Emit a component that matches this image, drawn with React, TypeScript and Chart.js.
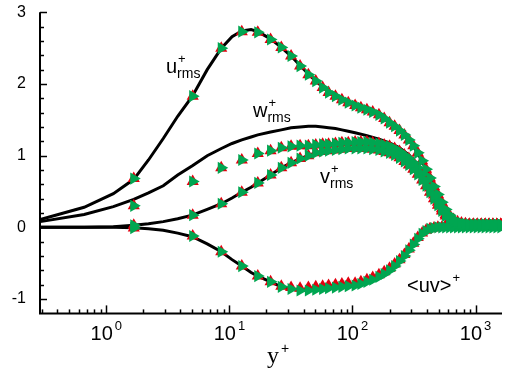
import React, { useEffect, useRef } from "react";
import { Chart, registerables } from "chart.js";

Chart.register(...registerables);

// ---- axis ranges / ticks ----
const X_MIN = 0.289;
const X_MAX = 1640;
const Y_MIN = -1.2;
const Y_MAX = 3;
const xDecadeExponents = [0, 1, 2, 3];
const yTickValues = [3, 2, 1, 0, -1];

// ---- reference (solid black) curves ----
const dnsYPlus = [0.29, 0.66, 1.14, 1.67, 2.2, 2.9, 3.8, 5.0, 6.6, 8.6, 10.5, 12.6, 15, 17,
  21.6, 26.4, 31.7, 37.5, 43.8, 50.3, 57.2, 63.9, 72.7, 82, 92.4, 105,
  131, 164, 200, 241, 287, 339, 396, 459,
  532, 616, 714, 827, 959, 1111, 1287, 1491, 1640];
const dnsU = [0.11, 0.28, 0.47, 0.67, 0.94, 1.24, 1.55, 1.83, 2.2, 2.5, 2.66, 2.74, 2.76, 2.73,
  2.63, 2.51, 2.39, 2.26, 2.14, 2.04, 1.96, 1.89, 1.83, 1.78, 1.74, 1.7,
  1.64, 1.57, 1.46, 1.35, 1.22, 1.04, 0.81, 0.57,
  0.35, 0.17, 0.08, 0.05, 0.04, 0.04, 0.04, 0.04, 0.04];
const dnsW = [0.08, 0.18, 0.29, 0.39, 0.48, 0.58, 0.73, 0.86, 1.0, 1.1, 1.17, 1.22, 1.26, 1.29,
  1.33, 1.36, 1.39, 1.4, 1.41, 1.41, 1.4, 1.39, 1.38, 1.36, 1.34, 1.32,
  1.28, 1.23, 1.18, 1.11, 1.01, 0.88, 0.7, 0.47,
  0.26, 0.11, 0.05, 0.04, 0.04, 0.04, 0.04, 0.04, 0.04];
const dnsV = [0, 0, 0.01, 0.03, 0.05, 0.08, 0.12, 0.17, 0.25, 0.33, 0.41, 0.49, 0.56, 0.62,
  0.73, 0.83, 0.9, 0.96, 1.0, 1.04, 1.06, 1.07, 1.08, 1.09, 1.1, 1.1,
  1.1, 1.08, 1.04, 0.97, 0.87, 0.74, 0.58, 0.4,
  0.23, 0.11, 0.05, 0.04, 0.04, 0.04, 0.04, 0.04, 0.04];
const dnsUV = [0, 0, 0, -0.005, -0.02, -0.04, -0.08, -0.13, -0.23, -0.34, -0.45, -0.54, -0.63, -0.68,
  -0.76, -0.83, -0.86, -0.88, -0.88, -0.87, -0.86, -0.85, -0.84, -0.83, -0.82, -0.81,
  -0.76, -0.69, -0.6, -0.47, -0.32, -0.16, -0.05, -0.01,
  0, 0, 0, 0, 0, 0, 0, 0, 0];

// ---- marker series (grid points) ----
const gridYPlus = [1.67, 5.03, 8.58, 12.6, 17.0, 21.6, 26.4, 31.7, 37.5, 43.8, 50.3, 57.2, 63.9,
  72.7, 82.0, 92.4, 105,
  117, 131, 146, 164, 181, 200, 220, 241, 264, 287, 312, 339, 368, 396, 426, 459,
  494, 532, 572, 616, 663, 714, 768, 827, 890, 959, 1032, 1111, 1196, 1287, 1385, 1491, 1605];
const greenU = [0.68, 1.83, 2.5, 2.73, 2.72, 2.62, 2.51, 2.39, 2.25, 2.13, 2.04, 1.95, 1.88,
  1.83, 1.78, 1.74, 1.7,
  1.67, 1.64, 1.61, 1.57, 1.52, 1.46, 1.41, 1.35, 1.29, 1.22, 1.14, 1.04, 0.93, 0.81, 0.69, 0.57,
  0.46, 0.35, 0.25, 0.17, 0.11, 0.08, 0.06, 0.05, 0.04, 0.04, 0.04, 0.04, 0.04, 0.04, 0.04, 0.04, 0.04];
const greenW = [0.3, 0.64, 0.83, 0.94, 1.03, 1.07, 1.11, 1.13, 1.14, 1.14, 1.15, 1.16, 1.16,
  1.17, 1.18, 1.18, 1.19,
  1.19, 1.19, 1.18, 1.17, 1.15, 1.13, 1.1, 1.06, 1.01, 0.96, 0.9, 0.83, 0.74, 0.65, 0.55, 0.45,
  0.35, 0.26, 0.18, 0.12, 0.08, 0.06, 0.05, 0.04, 0.04, 0.04, 0.04, 0.04, 0.04, 0.04, 0.04, 0.04, 0.04];
const greenV = [0.03, 0.17, 0.33, 0.49, 0.62, 0.73, 0.83, 0.9, 0.96, 1.0, 1.04, 1.06, 1.07,
  1.08, 1.09, 1.1, 1.1,
  1.1, 1.1, 1.09, 1.08, 1.06, 1.04, 1.01, 0.97, 0.92, 0.87, 0.81, 0.74, 0.66, 0.58, 0.49, 0.4,
  0.31, 0.23, 0.16, 0.11, 0.07, 0.05, 0.04, 0.04, 0.04, 0.04, 0.04, 0.04, 0.04, 0.04, 0.04, 0.04, 0.04];
const greenUV = [-0.01, -0.12, -0.34, -0.54, -0.68, -0.76, -0.83, -0.86, -0.88, -0.88, -0.87, -0.86, -0.85,
  -0.84, -0.83, -0.82, -0.81,
  -0.79, -0.76, -0.73, -0.69, -0.65, -0.6, -0.54, -0.47, -0.4, -0.32, -0.24, -0.16, -0.09, -0.05, -0.02, -0.01,
  0, 0, 0, 0, 0, 0, 0, 0, 0, 0, 0, 0, 0, 0, 0, 0, 0];
const redU = greenU;
const redW = greenW;
const redV = greenV;
const redUV = [-0.01, -0.12, -0.34, -0.54, -0.68, -0.76, -0.82, -0.84, -0.85, -0.84, -0.83, -0.82, -0.81,
  -0.8, -0.79, -0.78, -0.78,
  -0.76, -0.73, -0.7, -0.66, -0.62, -0.57, -0.51, -0.45, -0.38, -0.3, -0.22, -0.14, -0.08, -0.04, -0.02, -0.01,
  0, 0, 0, 0, 0, 0, 0, 0, 0, 0, 0, 0, 0, 0, 0, 0, 0];

const GREEN = "#00a651";
const RED = "#e1000f";
const SANS = "'Liberation Sans', Arial, Helvetica, sans-serif";
const SERIF = "'Liberation Serif', 'Times New Roman', serif";

const pts = (xs: number[], ys: number[]) => xs.map((x, i) => ({ x, y: ys[i] }));

const lineDs = (ys: number[]) => ({
  data: pts(dnsYPlus, ys),
  showLine: true,
  borderColor: "#000",
  borderWidth: 3,
  pointRadius: 0,
  tension: 0,
  order: 3,
});
const markerDs = (ys: number[], color: string, rotation: number, order: number) => ({
  data: pts(gridYPlus, ys),
  showLine: false,
  pointStyle: "triangle",
  pointRadius: 7,
  pointRotation: rotation,
  pointBackgroundColor: color,
  pointBorderWidth: 0,
  pointBorderColor: color,
  order,
});

const decorPlugin = {
  id: "decor",
  afterDraw(chart: any) {
    const { ctx, chartArea, scales } = chart;
    const xs = scales.x;
    const ys = scales.y;
    ctx.save();
    ctx.strokeStyle = "#000";
    ctx.fillStyle = "#000";
    ctx.lineWidth = 2;
    // axis lines
    ctx.beginPath();
    ctx.moveTo(chartArea.left, ys.getPixelForValue(Y_MAX));
    ctx.lineTo(chartArea.left, chartArea.bottom);
    ctx.lineTo(chartArea.right, chartArea.bottom);
    ctx.stroke();
    // y ticks (inward)
    ctx.lineWidth = 1.5;
    for (let k = -5; k <= 15; k++) {
      const v = k / 5;
      if (v <= Y_MIN + 1e-9 || v > Y_MAX + 1e-9) continue;
      const yp = Math.round(ys.getPixelForValue(v)) + 0.5;
      const len = k % 5 === 0 ? 7 : 4;
      ctx.beginPath();
      ctx.moveTo(chartArea.left, yp);
      ctx.lineTo(chartArea.left + len, yp);
      ctx.stroke();
    }
    // x ticks (inward)
    for (let e = -1; e <= 3; e++) {
      for (let m = 1; m <= 9; m++) {
        const v = m * Math.pow(10, e);
        if (v < X_MIN || v > X_MAX) continue;
        const xp = Math.round(xs.getPixelForValue(v)) + 0.5;
        const len = m === 1 ? 8 : 4;
        ctx.beginPath();
        ctx.moveTo(xp, chartArea.bottom);
        ctx.lineTo(xp, chartArea.bottom - len);
        ctx.stroke();
      }
    }
    // y tick labels
    ctx.font = `16px ${SANS}`;
    ctx.textAlign = "right";
    ctx.textBaseline = "middle";
    yTickValues.forEach((v) => {
      ctx.fillText(String(v), 26, ys.getPixelForValue(v));
    });
    // x tick labels 10^k
    ctx.textBaseline = "alphabetic";
    xDecadeExponents.forEach((e) => {
      const xp = xs.getPixelForValue(Math.pow(10, e));
      ctx.font = `20px ${SANS}`;
      const wBase = ctx.measureText("10").width;
      ctx.font = `13px ${SANS}`;
      const wExp = ctx.measureText(String(e)).width;
      const start = xp - (wBase + 2 + wExp) / 2;
      ctx.textAlign = "left";
      ctx.font = `20px ${SANS}`;
      ctx.fillText("10", start, 340);
      ctx.font = `13px ${SANS}`;
      ctx.fillText(String(e), start + wBase + 2, 330);
    });
    // x axis title y+
    ctx.textAlign = "left";
    ctx.font = `24px ${SERIF}`;
    ctx.fillText("y", 267, 363);
    ctx.font = `14px ${SANS}`;
    ctx.fillText("+", 281, 353);
    // curve labels
    const lab = (base: string, bx: number, by: number, sub: string | null) => {
      ctx.font = `20px ${SANS}`;
      ctx.fillText(base, bx, by);
      const w = ctx.measureText(base).width;
      ctx.font = `13px ${SANS}`;
      ctx.fillText("+", bx + w + 1, by - 10);
      if (sub) {
        ctx.font = `14px ${SANS}`;
        ctx.fillText(sub, bx + w, by + 5);
      }
    };
    lab("u", 166, 73, "rms");
    lab("w", 253, 117, "rms");
    lab("v", 320, 183, "rms");
    lab("<uv>", 407, 292, null);
    ctx.restore();
  },
};

export default function App() {
  const ref = useRef<HTMLCanvasElement | null>(null);
  useEffect(() => {
    if (!ref.current) return;
    const chart = new Chart(ref.current, {
      type: "scatter",
      data: {
        datasets: [
          lineDs(dnsU),
          lineDs(dnsW),
          lineDs(dnsV),
          lineDs(dnsUV),
          markerDs(redU, RED, 0, 2),
          markerDs(redW, RED, 0, 2),
          markerDs(redV, RED, 0, 2),
          markerDs(redUV, RED, 0, 2),
          markerDs(greenU, GREEN, 90, 1),
          markerDs(greenW, GREEN, 90, 1),
          markerDs(greenV, GREEN, 90, 1),
          markerDs(greenUV, GREEN, 90, 1),
        ] as any,
      },
      options: {
        animation: false,
        responsive: false,
        devicePixelRatio: 1,
        layout: { padding: { left: 40, right: 0, top: 12.3, bottom: 59.6 } },
        plugins: { legend: { display: false }, tooltip: { enabled: false } },
        events: [],
        scales: {
          x: { type: "logarithmic", min: X_MIN, max: X_MAX, display: false },
          y: { type: "linear", min: Y_MIN, max: Y_MAX, display: false },
        },
      } as any,
      plugins: [decorPlugin],
    });
    return () => chart.destroy();
  }, []);
  return (
    <div style={{ position: "absolute", left: 0, top: 0, width: 509, height: 373, background: "#fff" }}>
      <canvas ref={ref} width={509} height={373} style={{ display: "block" }} />
    </div>
  );
}
